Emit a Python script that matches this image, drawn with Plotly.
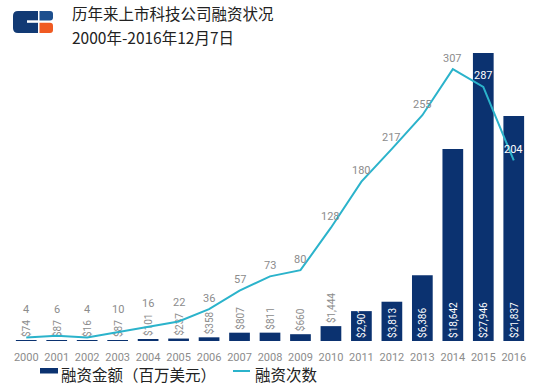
import plotly.graph_objects as go

# ---------------- data ----------------
years = [str(y) for y in range(2000, 2017)]
amounts = [74, 87, 16, 87, 101, 237, 358, 807, 811, 660, 1444, 2901, 3813, 6386, 18642, 27946, 21837]
amount_labels = ["$74", "$87", "$16", "$87", "$101", "$237", "$358", "$807", "$811", "$660",
                 "$1,444", "$2,901", "$3,813", "$6,386", "$18,642", "$27,946", "$21,837"]
counts = [4, 6, 4, 10, 16, 22, 36, 57, 73, 80, 128, 180, 217, 255, 307, 287, 204]

title_line1 = "历年来上市科技公司融资状况"
title_line2 = "2000年-2016年12月7日"
legend_bar = "融资金额（百万美元）"
legend_line = "融资次数"

# ---------------- style ----------------
W, H = 550, 389
ML, MT = 11, 40
PW, PH = 518, 301
MR, MB = W - ML - PW, H - MT - PH
NAVY = "#0B3270"
TEAL = "#2BB3CB"
GRAY = "#8C8C8C"
NUMFONT = "Roboto, Lato, sans-serif"
CJK = "Noto Sans CJK SC"

BAR_MAX = 29220.0
LINE_MAX = 340.0
by = PH / BAR_MAX
ly = PH / LINE_MAX


def px(x):
    """figure x pixel -> paper coordinate"""
    return (x - ML) / PW


def py(y):
    """figure y pixel -> paper coordinate"""
    return (MT + PH - y) / PH


inside = [a > 2000 for a in amounts]

fig = go.Figure()

fig.add_trace(go.Bar(
    x=years, y=amounts, name=legend_bar,
    marker=dict(color=NAVY, line=dict(width=0)),
    width=0.68,
    text=amount_labels,
    textposition=["inside" if i else "outside" for i in inside],
    textangle=-90,
    insidetextanchor="start",
    constraintext="none",
    insidetextfont=dict(color="white", size=10, family=NUMFONT),
    outsidetextfont=dict(color=GRAY, size=10, family=NUMFONT),
    cliponaxis=False,
    showlegend=False,
    hoverinfo="skip",
))

fig.add_trace(go.Scatter(
    x=years, y=counts, name=legend_line, yaxis="y2",
    mode="lines", line=dict(color=TEAL, width=2),
    showlegend=False, hoverinfo="skip",
))

# line value labels, lifted above the rotated bar labels when needed
annotations = []
for i, (c, a, lab) in enumerate(zip(counts, amounts, amount_labels)):
    center = c * ly + 11
    if not inside[i]:
        center = max(center, a * by + 3 + 5.3 * len(lab) + 12)
    col = "white" if inside[i] and c * ly < a * by else GRAY
    annotations.append(dict(
        x=i, y=center / ly, xref="x", yref="y2", text=str(c),
        showarrow=False, yanchor="middle",
        font=dict(size=11, color=col, family=NUMFONT),
    ))

# title
annotations.append(dict(x=px(70), y=py(13), xref="paper", yref="paper", text=title_line1,
                        showarrow=False, xanchor="left", yanchor="middle",
                        font=dict(size=15.5, color="#222222", family=CJK)))
annotations.append(dict(x=px(70), y=py(37), xref="paper", yref="paper", text=title_line2,
                        showarrow=False, xanchor="left", yanchor="middle",
                        font=dict(size=15.5, color="#222222", family=CJK)))
# legend texts
annotations.append(dict(x=px(59), y=py(374), xref="paper", yref="paper", text=legend_bar,
                        showarrow=False, xanchor="left", yanchor="middle",
                        font=dict(size=15.5, color="#222222", family=CJK)))
annotations.append(dict(x=px(253), y=py(374), xref="paper", yref="paper", text=legend_line,
                        showarrow=False, xanchor="left", yanchor="middle",
                        font=dict(size=15.5, color="#222222", family=CJK)))


def rrect(x0, y0, x1, y1, rl, rr):
    X0, X1 = px(x0), px(x1)
    Y0, Y1 = py(y0), py(y1)
    rxl, ryl = rl / PW, rl / PH
    rxr, ryr = rr / PW, rr / PH
    return (f"M {X0 + rxl} {Y0} L {X1 - rxr} {Y0} Q {X1} {Y0} {X1} {Y0 - ryr} "
            f"L {X1} {Y1 + ryr} Q {X1} {Y1} {X1 - rxr} {Y1} L {X0 + rxl} {Y1} "
            f"Q {X0} {Y1} {X0} {Y1 + ryl} L {X0} {Y0 - ryl} Q {X0} {Y0} {X0 + rxl} {Y0} Z")


shapes = [
    # logo
    dict(type="path", xref="paper", yref="paper", path=rrect(13, 11, 38, 33, 5, 0),
         fillcolor="#123A74", line=dict(width=0)),
    dict(type="rect", xref="paper", yref="paper", x0=px(27), x1=px(38.5), y0=py(20.3), y1=py(22.8),
         fillcolor="white", line=dict(width=0)),
    dict(type="path", xref="paper", yref="paper", path=rrect(39.5, 11, 53, 20.5, 0, 3),
         fillcolor="#1D4F8E", line=dict(width=0)),
    dict(type="path", xref="paper", yref="paper", path=rrect(39.5, 22.8, 53, 33, 0, 3),
         fillcolor="#F05A22", line=dict(width=0)),
    # legend symbols
    dict(type="rect", xref="paper", yref="paper", x0=px(40), x1=px(58), y0=py(373.5), y1=py(368),
         fillcolor=NAVY, line=dict(width=0)),
    dict(type="line", xref="paper", yref="paper", x0=px(233), x1=px(250), y0=py(371), y1=py(371),
         line=dict(color=TEAL, width=2)),
]

fig.update_layout(
    width=W, height=H,
    margin=dict(l=ML, r=MR, t=MT, b=MB, pad=0),
    paper_bgcolor="white", plot_bgcolor="white",
    xaxis=dict(type="category", range=[-0.5, len(years) - 0.5], showgrid=False, zeroline=False,
               showline=False, ticks="",
               tickfont=dict(size=11, color=GRAY, family=NUMFONT), ticklabelstandoff=8),
    yaxis=dict(range=[0, BAR_MAX], visible=False, showgrid=False),
    yaxis2=dict(range=[0, LINE_MAX], visible=False, showgrid=False, overlaying="y", side="right"),
    annotations=annotations,
    shapes=shapes,
    showlegend=False,
)

fig.write_html(
    "out.html",
    config={"displayModeBar": False},
    post_script="document.body.style.margin='0';document.body.style.overflow='hidden';",
)
